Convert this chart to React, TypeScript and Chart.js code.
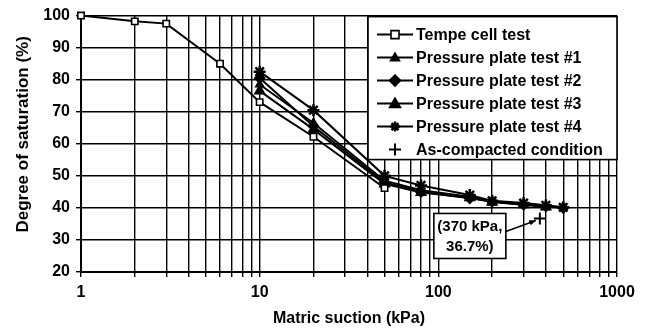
import React, { useEffect, useRef } from "react";
import { Chart, registerables } from "chart.js";

Chart.register(...registerables);

// ---- data ----
const tempeSuction = [1, 2, 3, 6, 10, 20, 50];
const tempeSaturation = [100, 98.2, 97.5, 85, 73, 62.2, 46.2];

const pp1Suction = [10, 20, 50, 80, 150, 200, 300, 400];
const pp1Saturation = [78.5, 66.5, 48.5, 45.5, 43.5, 42, 41.2, 40.5];

const pp2Suction = [10, 20, 50, 80, 150, 200, 300, 400, 500];
const pp2Saturation = [80.5, 65.5, 48, 45, 43, 42, 41, 40.5, 40];

const pp3Suction = [10, 20, 50, 80, 150, 200, 300, 400];
const pp3Saturation = [76.5, 64.5, 47.5, 44.8, 43.2, 41.8, 41, 40.3];

const pp4Suction = [10, 20, 50, 80, 150, 200, 300, 400, 500];
const pp4Saturation = [82.5, 70.5, 50, 47, 44, 42.2, 41.5, 40.8, 40.2];

const compactedSuction = [370];
const compactedSaturation = [36.7];

const seriesLabels = [
  "Tempe cell test",
  "Pressure plate test #1",
  "Pressure plate test #2",
  "Pressure plate test #3",
  "Pressure plate test #4",
  "As-compacted condition",
];
const annotationLines = ["(370 kPa,", "36.7%)"];

const xLabelValues = [1, 10, 100, 1000];
const yMin = 20;
const yMax = 100;
const yStep = 10;

const FONT = '"Liberation Sans", Arial, Helvetica, sans-serif';

function pts(xs: number[], ys: number[]) {
  return xs.map((x, i) => ({ x, y: ys[i] }));
}

function logTickValues(min: number, max: number) {
  const out: number[] = [];
  for (let d = min; d < max; d *= 10) {
    for (let m = 1; m < 10; m++) out.push(m * d);
  }
  out.push(max);
  return out;
}

const markerStyles = ["rect", "triangleSmall", "rectRot", "triangle", "star", "cross"];

function drawMarker(ctx: CanvasRenderingContext2D, style: string, x: number, y: number) {
  ctx.save();
  ctx.strokeStyle = "#000";
  ctx.fillStyle = "#000";
  ctx.lineWidth = 1.6;
  ctx.beginPath();
  if (style === "rect") {
    ctx.fillStyle = "#fff";
    ctx.rect(x - 4, y - 4, 8, 8);
    ctx.fill();
    ctx.stroke();
  } else if (style === "triangleSmall" || style === "triangle") {
    const r = style === "triangle" ? 5.5 : 4.5;
    ctx.moveTo(x, y - r);
    ctx.lineTo(x + r, y + r * 0.7);
    ctx.lineTo(x - r, y + r * 0.7);
    ctx.closePath();
    ctx.fill();
    ctx.stroke();
  } else if (style === "rectRot") {
    const r = 5.5;
    ctx.moveTo(x, y - r);
    ctx.lineTo(x + r, y);
    ctx.lineTo(x, y + r);
    ctx.lineTo(x - r, y);
    ctx.closePath();
    ctx.fill();
    ctx.stroke();
  } else if (style === "star") {
    const r = 5;
    ctx.lineWidth = 2.5;
    ctx.moveTo(x - r, y);
    ctx.lineTo(x + r, y);
    ctx.moveTo(x, y - r);
    ctx.lineTo(x, y + r);
    ctx.moveTo(x - r * 0.7, y - r * 0.7);
    ctx.lineTo(x + r * 0.7, y + r * 0.7);
    ctx.moveTo(x - r * 0.7, y + r * 0.7);
    ctx.lineTo(x + r * 0.7, y - r * 0.7);
    ctx.stroke();
  } else if (style === "cross") {
    const r = 6;
    ctx.lineWidth = 2;
    ctx.moveTo(x - r, y);
    ctx.lineTo(x + r, y);
    ctx.moveTo(x, y - r);
    ctx.lineTo(x, y + r);
    ctx.stroke();
  }
  ctx.restore();
}

const overlayPlugin = {
  id: "overlay",
  afterDraw(chart: any) {
    const ctx: CanvasRenderingContext2D = chart.ctx;
    const area = chart.chartArea;
    const xs = chart.scales.x;
    const ys = chart.scales.y;

    // annotation
    const px = xs.getPixelForValue(compactedSuction[0]);
    const py = ys.getPixelForValue(compactedSaturation[0]);
    const bw = 72;
    const bh = 45;
    const bRight = px - 34;
    const bLeft = bRight - bw;
    const bTop = py - 5;
    ctx.save();
    ctx.fillStyle = "#fff";
    ctx.strokeStyle = "#000";
    ctx.lineWidth = 1.6;
    ctx.fillRect(bLeft, bTop, bw, bh);
    ctx.strokeRect(bLeft, bTop, bw, bh);
    ctx.fillStyle = "#000";
    ctx.font = `bold 15px ${FONT}`;
    ctx.textAlign = "center";
    ctx.textBaseline = "middle";
    ctx.fillText(annotationLines[0], bLeft + bw / 2, bTop + 13);
    ctx.fillText(annotationLines[1], bLeft + bw / 2, bTop + 33);
    // arrow
    const ax0 = bRight;
    const ay0 = bTop + 18;
    const ax1 = px - 4;
    const ay1 = py + 2;
    ctx.beginPath();
    ctx.lineWidth = 1.5;
    ctx.moveTo(ax0, ay0);
    ctx.lineTo(ax1, ay1);
    ctx.stroke();
    const ang = Math.atan2(ay1 - ay0, ax1 - ax0);
    ctx.beginPath();
    ctx.moveTo(ax1, ay1);
    ctx.lineTo(ax1 - 7 * Math.cos(ang - 0.4), ay1 - 7 * Math.sin(ang - 0.4));
    ctx.lineTo(ax1 - 7 * Math.cos(ang + 0.4), ay1 - 7 * Math.sin(ang + 0.4));
    ctx.closePath();
    ctx.fill();
    ctx.restore();

    // legend
    const lw = 249;
    const lh = 143;
    const lRight = area.right;
    const lLeft = lRight - lw;
    const lTop = area.top + 1;
    ctx.save();
    ctx.fillStyle = "#fff";
    ctx.strokeStyle = "#000";
    ctx.lineWidth = 1.6;
    ctx.fillRect(lLeft, lTop, lw, lh);
    ctx.strokeRect(lLeft, lTop, lw, lh);
    ctx.font = `bold 16px ${FONT}`;
    ctx.textBaseline = "middle";
    ctx.textAlign = "left";
    seriesLabels.forEach((label, i) => {
      const y = lTop + 18 + i * 23;
      const sx0 = lLeft + 9;
      const sx1 = lLeft + 45;
      const mx = (sx0 + sx1) / 2;
      if (i < 5) {
        ctx.beginPath();
        ctx.strokeStyle = "#000";
        ctx.lineWidth = 2;
        ctx.moveTo(sx0, y);
        ctx.lineTo(sx1, y);
        ctx.stroke();
      }
      drawMarker(ctx, markerStyles[i], mx, y);
      ctx.fillStyle = "#000";
      ctx.fillText(label, lLeft + 48, y + 1);
    });
    ctx.restore();
  },
};

export default function App() {
  const ref = useRef<HTMLCanvasElement | null>(null);

  useEffect(() => {
    if (!ref.current) return;
    const line = (label: string, xs: number[], ys: number[], extra: any) => ({
      label,
      data: pts(xs, ys),
      borderColor: "#000",
      backgroundColor: "#000",
      borderWidth: 2,
      pointBorderColor: "#000",
      pointBackgroundColor: "#000",
      pointBorderWidth: 1.6,
      tension: 0,
      clip: false,
      ...extra,
    });
    const chart = new Chart(ref.current, {
      type: "line",
      data: {
        datasets: [
          line(seriesLabels[0], tempeSuction, tempeSaturation, {
            pointStyle: "rect",
            pointRadius: 4.5,
            pointBackgroundColor: "#fff",
          }),
          line(seriesLabels[1], pp1Suction, pp1Saturation, { pointStyle: "triangle", pointRadius: 4.5 }),
          line(seriesLabels[2], pp2Suction, pp2Saturation, { pointStyle: "rectRot", pointRadius: 5 }),
          line(seriesLabels[3], pp3Suction, pp3Saturation, { pointStyle: "triangle", pointRadius: 5.5 }),
          line(seriesLabels[4], pp4Suction, pp4Saturation, {
            pointStyle: "star",
            pointRadius: 6,
            pointBorderWidth: 2.5,
          }),
          line(seriesLabels[5], compactedSuction, compactedSaturation, {
            pointStyle: "cross",
            pointRadius: 6,
            pointBorderWidth: 2,
            showLine: false,
          }),
        ],
      },
      options: {
        responsive: false,
        animation: false,
        parsing: true,
        layout: { padding: { top: 13, right: 32, left: 0, bottom: 0 } },
        plugins: {
          legend: { display: false },
          tooltip: { enabled: false },
        },
        scales: {
          x: {
            type: "logarithmic",
            min: 1,
            max: 1000,
            afterBuildTicks: (scale: any) => {
              scale.ticks = logTickValues(1, 1000).map((v) => ({ value: v, major: xLabelValues.includes(v) }));
            },
            afterFit: (scale: any) => {
              scale.height = 59;
            },
            grid: { color: "#000", lineWidth: 1.4, tickLength: 5, tickColor: "#000" },
            border: { color: "#000", width: 2 },
            ticks: {
              autoSkip: false,
              maxRotation: 0,
              padding: 6,
              color: "#000",
              font: { family: FONT, size: 16, weight: "bold" },
              callback: (value: any) => (xLabelValues.includes(Number(value)) ? String(value) : ""),
            },
            title: {
              display: true,
              text: "Matric suction (kPa)",
              color: "#000",
              font: { family: FONT, size: 16, weight: "bold" },
              padding: { top: 0, bottom: 3 },
            },
          },
          y: {
            type: "linear",
            min: yMin,
            max: yMax,
            afterFit: (scale: any) => {
              scale.width = 81;
            },
            grid: { color: "#000", lineWidth: 1.4, tickLength: 5, tickColor: "#000" },
            border: { color: "#000", width: 2 },
            ticks: {
              stepSize: yStep,
              padding: 6,
              color: "#000",
              font: { family: FONT, size: 16, weight: "bold" },
            },
            title: {
              display: true,
              text: "    Degree of saturation (%)",
              color: "#000",
              font: { family: FONT, size: 17, weight: "bold" },
              padding: { top: 13, bottom: 0 },
            },
          },
        },
      } as any,
      plugins: [overlayPlugin],
    });
    return () => chart.destroy();
  }, []);

  return (
    <div style={{ position: "absolute", left: 0, top: 0, width: 649, height: 331, background: "#fff" }}>
      <canvas ref={ref} width={649} height={331} style={{ display: "block" }} />
    </div>
  );
}
